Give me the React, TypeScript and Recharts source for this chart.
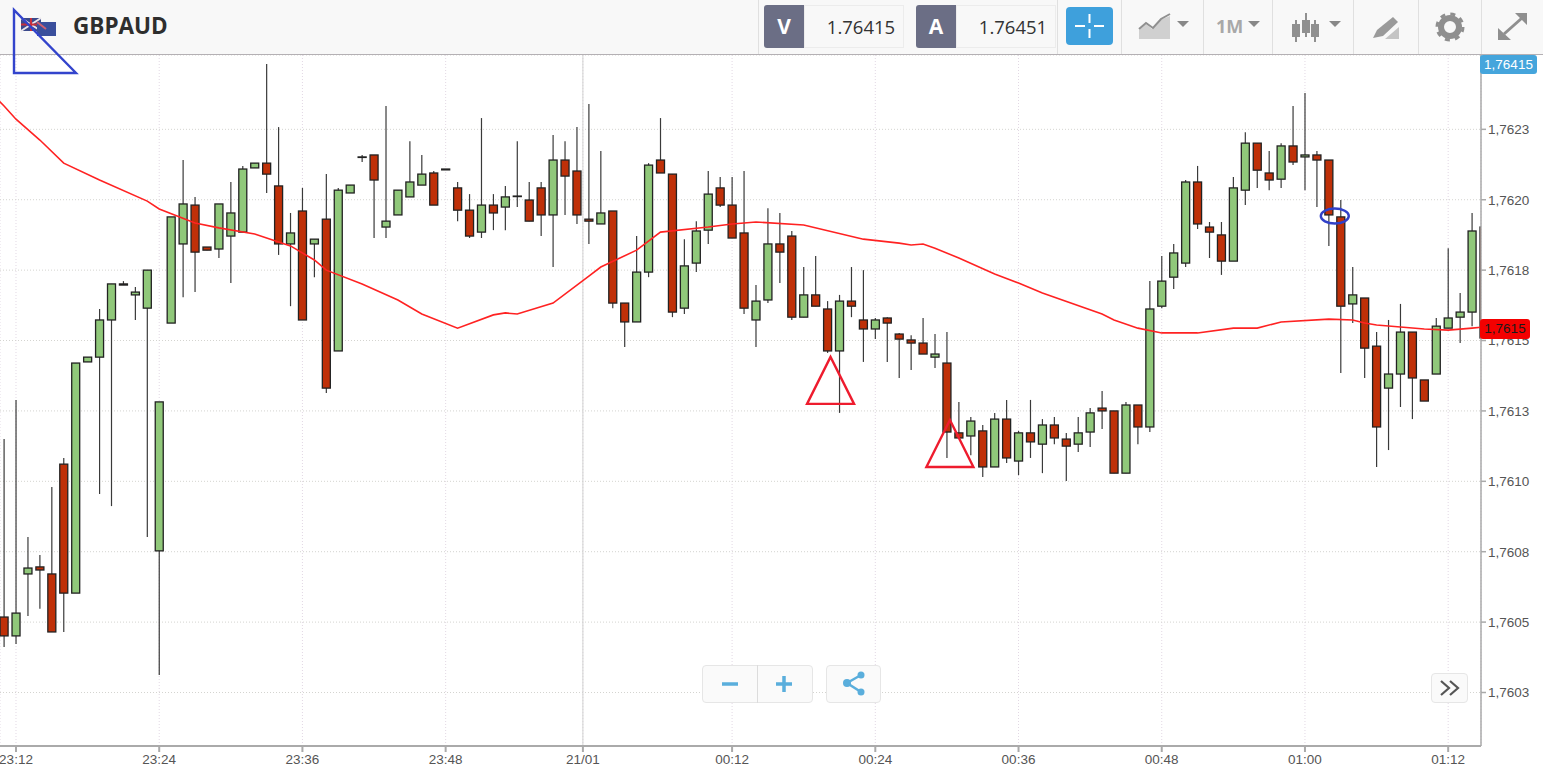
import React from "react";
import { ComposedChart, Bar, Line, XAxis, YAxis, CartesianGrid, ReferenceDot, ReferenceLine } from "recharts";

// one candle per minute, minute 0 = 23:00 (so 12 is 23:12, 60 is 00:00)
const firstMinute = 11;

const opens = [
  1.760518, 1.760451, 1.760671, 1.760696, 1.760671, 1.761061, 1.760603, 1.761424, 1.761441, 1.761573,
  1.761701, 1.761662, 1.761615, 1.760753, 1.761562, 1.761843, 1.761981, 1.761832, 1.761825, 1.761871,
  1.761885, 1.762113, 1.762130, 1.762049, 1.761843, 1.761960, 1.761843, 1.761931, 1.761463, 1.762024,
  1.762152, 1.762159, 1.761903, 1.761946, 1.762010, 1.762052, 1.762095, 1.762109, 1.762042, 1.761963,
  1.761885, 1.761981, 1.761974, 1.762013, 1.761999, 1.762042, 1.761946, 1.762141, 1.762102, 1.761931,
  1.761914, 1.761960, 1.761633, 1.761566, 1.761743, 1.762141, 1.762091, 1.761615, 1.761775, 1.761892,
  1.762042, 1.761981, 1.761882, 1.761573, 1.761644, 1.761843, 1.761871, 1.761583, 1.761662, 1.761612,
  1.761463, 1.761640, 1.761573, 1.761541, 1.761580, 1.761523, 1.761502, 1.761491, 1.761441, 1.761420,
  1.761172, 1.761161, 1.761179, 1.761051, 1.761221, 1.761072, 1.761172, 1.761132, 1.761200, 1.761150,
  1.761132, 1.761175, 1.761260, 1.761250, 1.761029, 1.761271, 1.761193, 1.761622, 1.761725, 1.761775,
  1.762063, 1.761903, 1.761875, 1.761782, 1.762034, 1.762201, 1.762095, 1.762073, 1.762191, 1.762152,
  1.762159, 1.762141, 1.761939, 1.761630, 1.761651, 1.761480, 1.761331, 1.761381, 1.761530, 1.761360,
  1.761381, 1.761544, 1.761583, 1.761601, 1.761903,
];

const highs = [
  1.761150, 1.761289, 1.760802, 1.760738, 1.760980, 1.761083, 1.761420, 1.761441, 1.761612, 1.761701,
  1.761711, 1.761690, 1.761750, 1.761282, 1.761939, 1.762141, 1.762010, 1.761832, 1.761985, 1.762063,
  1.762120, 1.762130, 1.762482, 1.762258, 1.761953, 1.762042, 1.761860, 1.762091, 1.762042, 1.762052,
  1.762159, 1.762159, 1.762333, 1.762034, 1.762208, 1.762159, 1.762102, 1.762109, 1.762063, 1.762020,
  1.762290, 1.762020, 1.762049, 1.762208, 1.762063, 1.762063, 1.762230, 1.762208, 1.762258, 1.762340,
  1.762173, 1.761960, 1.761633, 1.761871, 1.762130, 1.762290, 1.762091, 1.761860, 1.761924, 1.762102,
  1.762081, 1.762081, 1.762102, 1.761697, 1.761970, 1.761953, 1.761889, 1.761761, 1.761800, 1.761640,
  1.761662, 1.761761, 1.761750, 1.761580, 1.761583, 1.761527, 1.761519, 1.761580, 1.761523, 1.761530,
  1.761282, 1.761228, 1.761200, 1.761243, 1.761289, 1.761179, 1.761289, 1.761221, 1.761228, 1.761172,
  1.761228, 1.761260, 1.761321, 1.761250, 1.761282, 1.761271, 1.761711, 1.761800, 1.761843, 1.762070,
  1.762120, 1.761921, 1.761921, 1.762081, 1.762240, 1.762201, 1.762173, 1.762201, 1.762333, 1.762379,
  1.762173, 1.762141, 1.761999, 1.761761, 1.761651, 1.761530, 1.761573, 1.761630, 1.761530, 1.761360,
  1.761580, 1.761828, 1.761669, 1.761953, 1.761903,
];

const lows = [
  1.760412, 1.760422, 1.760522, 1.760547, 1.760465, 1.760465, 1.760603, 1.761424, 1.760955, 1.760912,
  1.761697, 1.761573, 1.760802, 1.760312, 1.761562, 1.761654, 1.761672, 1.761821, 1.761793, 1.761704,
  1.761885, 1.762113, 1.762024, 1.761804, 1.761622, 1.761573, 1.761725, 1.761314, 1.761463, 1.762024,
  1.762134, 1.761864, 1.761864, 1.761946, 1.762010, 1.762052, 1.761981, 1.762106, 1.761924, 1.761864,
  1.761864, 1.761892, 1.761892, 1.761974, 1.761924, 1.761871, 1.761761, 1.761946, 1.761914, 1.761843,
  1.761914, 1.761615, 1.761477, 1.761566, 1.761725, 1.762095, 1.761583, 1.761594, 1.761743, 1.761843,
  1.761974, 1.761864, 1.761594, 1.761477, 1.761633, 1.761704, 1.761573, 1.761583, 1.761622, 1.761456,
  1.761243, 1.761583, 1.761424, 1.761505, 1.761424, 1.761367, 1.761395, 1.761452, 1.761402, 1.761083,
  1.761154, 1.761093, 1.761015, 1.761051, 1.761065, 1.761022, 1.761083, 1.761029, 1.761132, 1.761001,
  1.761104, 1.761122, 1.761186, 1.761029, 1.761029, 1.761132, 1.761175, 1.761615, 1.761683, 1.761761,
  1.761896, 1.761793, 1.761733, 1.761782, 1.761981, 1.762042, 1.762034, 1.762042, 1.762123, 1.762034,
  1.761974, 1.761836, 1.761385, 1.761562, 1.761367, 1.761051, 1.761111, 1.761264, 1.761221, 1.761285,
  1.761381, 1.761544, 1.761491, 1.761551, 1.761509,
];

const closes = [
  1.760451, 1.760532, 1.760692, 1.760685, 1.760465, 1.760603, 1.761420, 1.761441, 1.761573, 1.761701,
  1.761697, 1.761672, 1.761750, 1.761282, 1.761939, 1.761985, 1.761814, 1.761821, 1.761985, 1.761953,
  1.762109, 1.762130, 1.762091, 1.761843, 1.761882, 1.761573, 1.761860, 1.761331, 1.762034, 1.762052,
  1.762152, 1.762070, 1.761924, 1.762034, 1.762063, 1.762091, 1.761981, 1.762106, 1.761963, 1.761871,
  1.761981, 1.761953, 1.762010, 1.762013, 1.761924, 1.761946, 1.762141, 1.762084, 1.761946, 1.761924,
  1.761953, 1.761633, 1.761566, 1.761743, 1.762123, 1.762095, 1.761601, 1.761765, 1.761889, 1.762020,
  1.761981, 1.761864, 1.761615, 1.761640, 1.761843, 1.761814, 1.761583, 1.761662, 1.761622, 1.761463,
  1.761640, 1.761622, 1.761541, 1.761573, 1.761562, 1.761505, 1.761491, 1.761452, 1.761452, 1.761175,
  1.761154, 1.761214, 1.761051, 1.761221, 1.761083, 1.761172, 1.761140, 1.761200, 1.761154, 1.761125,
  1.761172, 1.761243, 1.761250, 1.761029, 1.761271, 1.761193, 1.761612, 1.761711, 1.761811, 1.762063,
  1.761914, 1.761885, 1.761782, 1.762042, 1.762201, 1.762105, 1.762070, 1.762191, 1.762134, 1.762159,
  1.762141, 1.761946, 1.761622, 1.761662, 1.761473, 1.761193, 1.761381, 1.761530, 1.761367, 1.761285,
  1.761551, 1.761580, 1.761601, 1.761889, 1.761509,
];

const maMinutes = [
  10, 11, 12, 14, 16, 19, 23, 24, 27, 29, 32, 35, 37, 38, 41, 44, 46, 49, 52, 53, 54, 57, 60, 61, 64, 66,
  70, 72, 74, 78, 83, 86, 87, 88, 89, 91, 94, 96, 98, 103, 104, 106, 108, 111, 114, 116, 118, 122, 124,
  125, 126, 130, 132, 134, 135,
];
const maValues = [
  1.762375, 1.762333, 1.762286, 1.762212, 1.762130, 1.762070, 1.761995, 1.761967, 1.761917, 1.761900,
  1.761878, 1.761836, 1.761786, 1.761750, 1.761701, 1.761644, 1.761594, 1.761544, 1.761591, 1.761598,
  1.761594, 1.761633, 1.761729, 1.761761, 1.761821, 1.761885, 1.761903, 1.761914, 1.761921, 1.761910,
  1.761860, 1.761846, 1.761839, 1.761843, 1.761828, 1.761793, 1.761736, 1.761704, 1.761669, 1.761594,
  1.761573, 1.761544, 1.761527, 1.761527, 1.761544, 1.761544, 1.761566, 1.761576, 1.761573, 1.761562,
  1.761555, 1.761541, 1.761537, 1.761544, 1.761548,
];

const dayBreakMinute = 59.5;
const xTickMinutes = [12, 24, 36, 48, dayBreakMinute, 72, 84, 96, 108, 120, 132];
const xTickLabels = ["23:12", "23:24", "23:36", "23:48", "21/01", "00:12", "00:24", "00:36", "00:48", "01:00", "01:12"];

const yTickValues = [1.76225, 1.762, 1.76175, 1.7615, 1.76125, 1.761, 1.76075, 1.7605, 1.76025];
const yTickLabels = ["1,7623", "1,7620", "1,7618", "1,7615", "1,7613", "1,7610", "1,7608", "1,7605", "1,7603"];

const triangleMarks = [
  { minute: 80.25, price: 1.761275 },
  { minute: 90.25, price: 1.761051 },
];
const circleMark = { minute: 122.5, price: 1.761942 };

const candleRows = opens.map((open, i) => ({
  minute: firstMinute + i,
  open,
  high: highs[i],
  low: lows[i],
  close: closes[i],
  range: [lows[i], highs[i]],
}));
const maRows = maMinutes.map((minute, i) => ({ minute, ma: maValues[i] }));

const AXIS_FONT = "'Liberation Sans', Arial, sans-serif";
const UI_FONT = "'Open Sans', sans-serif";
const ICON_GREY = "#a8a8a8";

function Candle(props: any) {
  const { x, y, width, height, payload } = props;
  const top = Math.min(y, y + height);
  const h = Math.abs(height);
  const perUnit = h / (payload.high - payload.low);
  const yOf = (v: number) => top + (payload.high - v) * perUnit;
  const cx = x + width / 2;
  const up = payload.close >= payload.open;
  const bodyTop = yOf(Math.max(payload.open, payload.close));
  const bodyBottom = yOf(Math.min(payload.open, payload.close));
  return (
    <g>
      <line x1={cx} x2={cx} y1={top} y2={top + h} stroke="#3a3a3a" strokeWidth={1.2} />
      <rect
        x={x}
        y={bodyTop}
        width={width}
        height={Math.max(bodyBottom - bodyTop, 0.5)}
        fill={up ? "#90c87a" : "#bf3008"}
        stroke="#222"
        strokeWidth={1.3}
      />
    </g>
  );
}

function TriangleMark(props: any) {
  const { cx, cy } = props;
  return (
    <path d={`M${cx} ${cy - 47} L${cx - 23.5} ${cy} L${cx + 23.5} ${cy} Z`} fill="none" stroke="#ee1c2e" strokeWidth={2.4} />
  );
}

function CircleMark(props: any) {
  return <ellipse cx={props.cx} cy={props.cy} rx={14} ry={7.5} fill="none" stroke="#3040c8" strokeWidth={2.4} />;
}

function Caret({ x }: { x: number }) {
  return <path d={`M${x} 21 h12 l-6 6 z`} fill="#888" />;
}

function Header() {
  const box: React.CSSProperties = { position: "absolute", top: 5, height: 43, boxSizing: "border-box" };
  const letter: React.CSSProperties = {
    ...box, width: 40, background: "#6b6e85", color: "#fff", fontWeight: 700, fontSize: 21,
    lineHeight: "43px", textAlign: "center", borderRadius: "3px 0 0 3px",
  };
  const value: React.CSSProperties = {
    ...box, width: 100, background: "#f8f8f8", color: "#333", fontSize: 18.5, paddingLeft: 14,
    lineHeight: "41px", textAlign: "center", border: "1px solid #ececec",
  };
  const dividers = [758, 1057, 1121, 1203, 1272, 1353, 1418, 1481];
  return (
    <div style={{ position: "absolute", left: 0, top: 0, width: 1543, height: 54, background: "#f8f8f8", borderBottom: "1px solid #b4b0b4", fontFamily: UI_FONT }}>
      <div style={{ position: "absolute", left: 73, top: 9, fontSize: 22.5, lineHeight: "34px", fontWeight: 700, color: "#2e2e2e" }}>GBPAUD</div>
      {dividers.map((x) => (
        <div key={x} style={{ position: "absolute", left: x, top: 0, width: 1, height: 54, background: "#e0e0e0" }} />
      ))}
      <div style={{ ...letter, left: 764 }}>V</div>
      <div style={{ ...value, left: 804 }}>1.76415</div>
      <div style={{ ...letter, left: 916 }}>A</div>
      <div style={{ ...value, left: 956 }}>1.76451</div>
      <div style={{ position: "absolute", left: 1066, top: 7, width: 47, height: 38, background: "#3ea0dc", borderRadius: 4 }} />
      <div style={{ position: "absolute", left: 1216, top: 14, fontSize: 18, lineHeight: "24px", fontWeight: 700, color: ICON_GREY }}>1M</div>
      <svg width={1543} height={54} style={{ position: "absolute", left: 0, top: 0 }}>
        {/* flags */}
        <rect x={21} y={18} width={20} height={13} fill="#3b4a8c" />
        <path d="M21 18 L41 31 M41 18 L21 31" stroke="#e8e4ea" strokeWidth={2} />
        <path d="M31 18 V31 M21 24.5 H41" stroke="#c8303c" strokeWidth={2} />
        <rect x={37} y={22} width={19} height={14} fill="#3a4f9c" />
        <path d="M37 22 L46 29" stroke="#d06070" strokeWidth={2} />
        {/* crosshair */}
        <path d="M1089.5 14 V23 M1089.5 29 V38 M1075 26 H1085 M1094 26 H1104" stroke="#fff" strokeWidth={2} />
        {/* chart type */}
        <path d="M1139 39 V30 L1146 24 L1152 29 L1160 20 L1170 16 V39 Z" fill="#d0d0d0" />
        <path d="M1139 29 L1146 23 L1153 28 L1161 19 L1170 14" fill="none" stroke="#909090" strokeWidth={2} />
        <Caret x={1177} />
        <Caret x={1248} />
        {/* candles */}
        <path d="M1296 20 V42 M1306 13 V37 M1315 20 V42" stroke="#909090" strokeWidth={2} />
        <rect x={1292} y={24} width={8} height={13} fill="#909090" />
        <rect x={1302} y={20} width={8} height={13} fill="#909090" />
        <rect x={1311} y={24} width={8} height={13} fill="#909090" />
        <Caret x={1329} />
        {/* pencil */}
        <path d="M1373 38 L1377 30 L1393 17 L1398 22 L1383 36 Z" fill="#9a9a9a" />
        <path d="M1385 39 L1399 27 V39 Z" fill="#c4c4c4" />
        {/* gear */}
        <circle cx={1450} cy={27} r={9} fill="none" stroke="#8f8f8f" strokeWidth={6} />
        <circle cx={1450} cy={27} r={13} fill="none" stroke="#8f8f8f" strokeWidth={3} strokeDasharray="5 5.2" />
        {/* expand */}
        <path d="M1504 34 L1522 18" stroke="#8f8f8f" strokeWidth={3} />
        <path d="M1515 13 H1527 V25 Z M1498 28 V40 H1511 Z" fill="#8f8f8f" />
      </svg>
    </div>
  );
}

function Floating() {
  const btn: React.CSSProperties = {
    position: "absolute", background: "#fafafa", border: "1px solid #e6e6e6", borderRadius: 4, boxSizing: "border-box",
  };
  return (
    <>
      <div style={{ ...btn, left: 702, top: 665, width: 111, height: 38 }} />
      <div style={{ position: "absolute", left: 757, top: 665, width: 1, height: 38, background: "#dcdcdc" }} />
      <div style={{ ...btn, left: 826, top: 665, width: 55, height: 38 }} />
      <div style={{ ...btn, left: 1431, top: 673, width: 37, height: 30 }} />
      <svg width={1543} height={778} style={{ position: "absolute", left: 0, top: 0, pointerEvents: "none" }}>
        <path d="M722 684 H738 M776 684 H792 M784 676 V692" stroke="#5aaedc" strokeWidth={3.5} />
        <path d="M861 675 L847 683 L861 692" fill="none" stroke="#5aaedc" strokeWidth={2.5} />
        <circle cx={861} cy={675} r={3.5} fill="#5aaedc" />
        <circle cx={847} cy={683} r={4} fill="#5aaedc" />
        <circle cx={861} cy={692} r={3.5} fill="#5aaedc" />
        <path d="M1441 681 L1449 688 L1441 695 M1450 681 L1458 688 L1450 695" fill="none" stroke="#555" strokeWidth={2.2} />
        {/* corner drawing */}
        <path d="M14 10 V73 H76 Z" fill="none" stroke="#3344cc" strokeWidth={2.4} />
      </svg>
    </>
  );
}

function PriceTag({ top, height, width, bg, color, text }: any) {
  return (
    <div style={{ position: "absolute", left: 1480, top, width, height, background: bg, color, borderRadius: 3, fontFamily: AXIS_FONT, fontSize: 13.5, lineHeight: `${height}px`, textAlign: "center" }}>
      {text}
    </div>
  );
}

export default function App() {
  return (
    <div style={{ position: "absolute", left: 0, top: 0, width: 1543, height: 778, background: "#fff", overflow: "hidden" }}>
      <ComposedChart width={1543} height={778} data={candleRows} margin={{ top: 55, right: 0, bottom: 0, left: 0 }}>
        <CartesianGrid horizontal={false} stroke="#e2d8e4" strokeDasharray="1 2" />
        <CartesianGrid vertical={false} stroke="#d4d4d0" strokeDasharray="1 2" />
        <ReferenceLine x={dayBreakMinute} stroke="#d2d2d2" />
        <XAxis
          dataKey="minute"
          type="number"
          scale="linear"
          domain={[10.66, 134.75]}
          allowDataOverflow
          ticks={xTickMinutes}
          interval={0}
          tickFormatter={(v: number) => xTickLabels[xTickMinutes.indexOf(v)]}
          height={32}
          tickSize={6}
          tick={{ fontSize: 13.5, fill: "#555", fontFamily: AXIS_FONT }}
          stroke="#aaa"
          strokeWidth={2}
        />
        <YAxis
          type="number"
          orientation="right"
          width={62}
          domain={[1.76006, 1.762514]}
          allowDataOverflow
          ticks={yTickValues}
          interval={0}
          tickFormatter={(v: number) => yTickLabels[yTickValues.indexOf(v)]}
          tickSize={5}
          tick={{ fontSize: 13.5, fill: "#555", fontFamily: AXIS_FONT }}
          stroke="#aaa"
          strokeWidth={1.5}
        />
        <Bar dataKey="range" barSize={8} shape={Candle} isAnimationActive={false} />
        <Line data={maRows} dataKey="ma" type="linear" stroke="#ff2222" strokeWidth={1.6} dot={false} activeDot={false} isAnimationActive={false} />
        {triangleMarks.map((m) => (
          <ReferenceDot key={m.minute} x={m.minute} y={m.price} shape={TriangleMark} />
        ))}
        <ReferenceDot x={circleMark.minute} y={circleMark.price} shape={CircleMark} />
      </ComposedChart>
      <Header />
      <Floating />
      <PriceTag top={55} height={19} width={57} bg="#45a5dc" color="#fff" text="1,76415" />
      <PriceTag top={319} height={20} width={50} bg="#f40000" color="#1a1a1a" text="1,7615" />
    </div>
  );
}
